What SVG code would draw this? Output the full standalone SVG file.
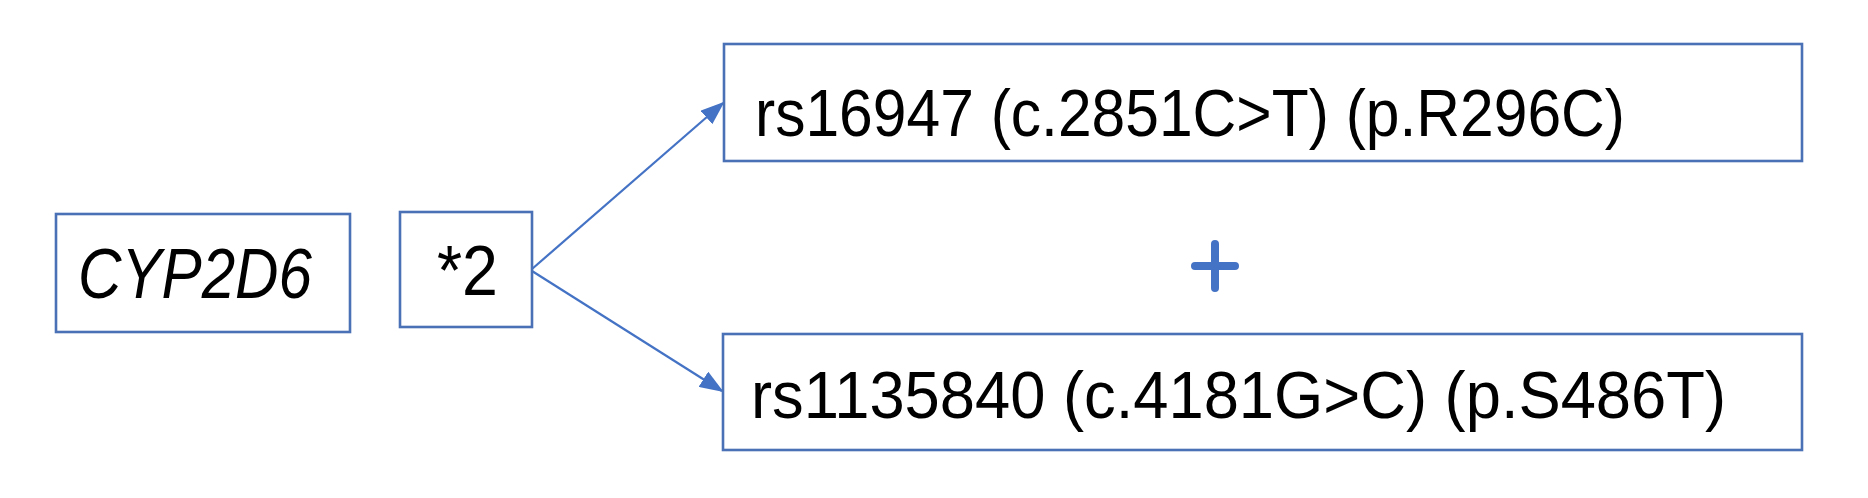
<svg xmlns="http://www.w3.org/2000/svg" width="1868" height="498" viewBox="0 0 1868 498">
<style>
.box{fill:#ffffff;stroke:#4A70B5;stroke-width:2.6}
.t{font-family:"Liberation Sans",Arial,sans-serif;fill:#000000}
.con{stroke:#4472C4;stroke-width:2.2;fill:none}
</style>
<defs>
<marker id="arr" viewBox="0 0 24 18" refX="22" refY="9" markerWidth="24" markerHeight="18" markerUnits="userSpaceOnUse" orient="auto">
<path d="M0,0 L24,9 L0,18 z" fill="#4472C4"/>
</marker>
</defs>
<rect width="1868" height="498" fill="#ffffff"/>
<g id="connectors">
<line class="con" x1="532" y1="269" x2="723" y2="103" marker-end="url(#arr)"/>
<line class="con" x1="532" y1="271" x2="722" y2="391" marker-end="url(#arr)"/>
</g>
<g id="node-cyp2d6">
<rect class="box" x="56" y="214" width="294" height="118"/>
<text class="t" x="78" y="298" font-size="70" font-style="italic" textLength="234" lengthAdjust="spacingAndGlyphs">CYP2D6</text>
</g>
<g id="node-star2">
<rect class="box" x="400" y="212" width="132" height="115"/>
<text class="t" x="437" y="295" font-size="70" textLength="61" lengthAdjust="spacingAndGlyphs">*2</text>
</g>
<g id="node-rs16947">
<rect class="box" x="724" y="44" width="1078" height="117"/>
<text class="t" x="755" y="136" font-size="66" textLength="870" lengthAdjust="spacingAndGlyphs">rs16947 (c.2851C&gt;T) (p.R296C)</text>
</g>
<g id="node-plus">
<path d="M1195,266 H1235 M1215,244 V288" stroke="#4472C4" stroke-width="8" stroke-linecap="round" fill="none"/>
</g>
<g id="node-rs1135840">
<rect class="box" x="723" y="334" width="1079" height="116"/>
<text class="t" x="751" y="418" font-size="66" textLength="975" lengthAdjust="spacingAndGlyphs">rs1135840 (c.4181G&gt;C) (p.S486T)</text>
</g>
</svg>
